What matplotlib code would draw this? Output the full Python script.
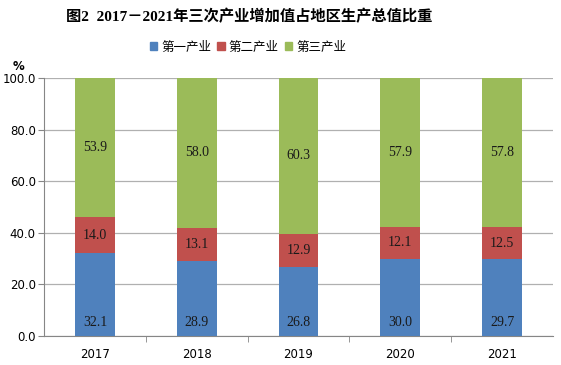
import numpy as np
import matplotlib
matplotlib.use('Agg')
import matplotlib.pyplot as plt
from matplotlib.patches import Patch

years = ['2017', '2018', '2019', '2020', '2021']
primary = [32.1, 28.9, 26.8, 30.0, 29.7]
secondary = [14.0, 13.1, 12.9, 12.1, 12.5]
tertiary = [53.9, 58.0, 60.3, 57.9, 57.8]
series_names = ['第一产业', '第二产业', '第三产业']
colors = ['#4F81BD', '#C0504D', '#9BBB59']

plt.rcParams['font.family'] = ['DejaVu Sans', 'Noto Sans CJK SC']

fig = plt.figure(figsize=(5.61, 3.65), dpi=100)
ax = fig.add_axes([44 / 561, 1 - 336 / 365, 509 / 561, 258 / 365])

x = np.arange(len(years))
width = 0.39
bottom = np.zeros(len(years))
for vals, c in zip([primary, secondary, tertiary], colors):
    vals = np.array(vals)
    ax.bar(x, vals, width, bottom=bottom, color=c, zorder=3)
    for xi, b, v in zip(x, bottom, vals):
        # first series label sits near the bottom, the rest are centred
        y = b + v / 2 if c != colors[0] else 5.2
        ax.text(xi, y, f'{v:.1f}', ha='center', va='center', fontsize=10,
                family='Liberation Serif', color='#1a1a1a', zorder=4)
    bottom += vals

ax.set_xlim(-0.5, len(years) - 0.5)
ax.set_ylim(0, 100)
ax.set_yticks(np.arange(0, 101, 20))
ax.set_yticklabels([f'{v:.1f}' for v in np.arange(0, 101, 20)], fontsize=8.5)
ax.set_xticks(x)
ax.set_xticklabels(years, fontsize=8.5)
ax.set_xticks(np.arange(0.5, len(years) - 1, 1), minor=True)
ax.tick_params(axis='x', which='major', length=0, pad=9)
ax.tick_params(axis='x', which='minor', length=4, color='#868686')
ax.tick_params(axis='y', length=4, color='#868686', pad=2)
ax.yaxis.grid(True, color='#b0b0b0', linewidth=0.9, zorder=0)
for s in ['top', 'right']:
    ax.spines[s].set_visible(False)
for s in ['left', 'bottom']:
    ax.spines[s].set_color('#868686')

fig.text(249 / 561, 1 - 17 / 365, '图2  2017－2021年三次产业增加值占地区生产总值比重',
         ha='center', va='center', fontsize=11, fontweight='bold',
         family=['Liberation Serif', 'Noto Sans CJK SC'])
fig.text(18 / 561, 1 - 67 / 365, '%', ha='center', va='center',
         fontsize=8.5, fontweight='bold')

handles = [Patch(color=c) for c in colors]
fig.legend(handles, series_names, loc='center', bbox_to_anchor=(248 / 561, 1 - 47 / 365),
           ncol=3, frameon=False, handlelength=0.6, handleheight=0.6,
           handletextpad=0.3, columnspacing=0.5,
           prop={'family': ['Noto Sans CJK SC'], 'size': 9})

fig.savefig('out.png', dpi=100)
